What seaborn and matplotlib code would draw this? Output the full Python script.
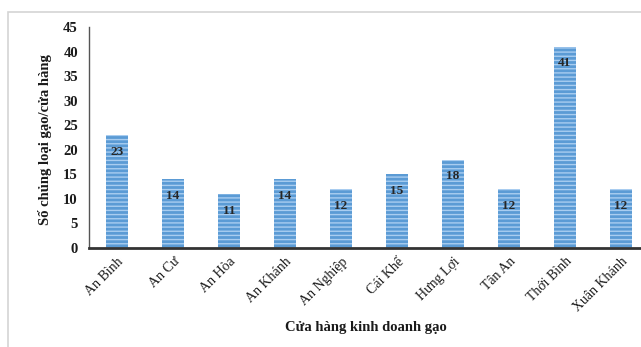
import matplotlib
matplotlib.use("Agg")
import matplotlib.pyplot as plt
import seaborn as sns
import pandas as pd
from matplotlib.patches import Rectangle

stores = ["An Bình", "An Cư", "An Hòa", "An Khánh", "An Nghiệp",
          "Cái Khế", "Hưng Lợi", "Tân An", "Thới Bình", "Xuân Khánh"]
counts = [23, 14, 11, 14, 12, 15, 18, 12, 41, 12]
y_ticks = [0, 5, 10, 15, 20, 25, 30, 35, 40, 45]

sns.set_theme(style="white")
plt.rcParams["font.family"] = ["Liberation Serif", "DejaVu Serif"]
plt.rcParams["hatch.linewidth"] = 1.0

df = pd.DataFrame({"store": stores, "count": counts})

W, H = 641, 347
fig = plt.figure(figsize=(W / 100, H / 100), dpi=100)
fig.patch.set_facecolor("white")

# light frame around the chart area
fig.add_artist(Rectangle((8 / W, -0.1), 1.2, 1.1 - 12 / H,
                         transform=fig.transFigure, fill=False,
                         edgecolor="#d4d4d4", linewidth=1.2))

left, right = 89, 649
bottom, top = 248, 27
ax = fig.add_axes([left / W, 1 - bottom / H, (right - left) / W, (bottom - top) / H])
ax.set_facecolor("none")

sns.barplot(data=df, x="store", y="count", ax=ax, color="#5b9bd5",
            width=0.38, saturation=1, edgecolor="#a9cdf0", linewidth=0,
            hatch="----")

for p, v in zip(ax.patches, counts):
    ax.annotate(str(v), (p.get_x() + p.get_width() / 2, v),
                xytext=(0, -12), textcoords="offset points",
                ha="center", va="center", fontsize=9.5, fontweight="bold",
                color="#262626")

ax.set_xlim(-0.5, 9.5)
ax.set_ylim(0, 45)
ax.set_yticks(y_ticks)
ax.set_yticklabels([str(t) for t in y_ticks], fontsize=10.5, fontweight="bold",
                   color="#1a1a1a")
ax.tick_params(axis="y", length=0, pad=8)
ax.tick_params(axis="x", length=0, pad=5)
ax.set_xticks(range(len(stores)))
ax.set_xticklabels(stores, rotation=45, ha="right", rotation_mode="anchor",
                   fontsize=10, color="#1a1a1a")

for s in ["top", "right"]:
    ax.spines[s].set_visible(False)
ax.spines["left"].set_color("#555555")
ax.spines["left"].set_linewidth(1.0)
ax.spines["bottom"].set_color("#333333")
ax.spines["bottom"].set_linewidth(2.0)

ax.set_xlabel("")
ax.set_ylabel("")
fig.text(45 / W, 1 - 140 / H, "Số chủng loại gạo/cửa hàng", rotation=90,
         ha="center", va="center", fontsize=10.5, fontweight="bold", color="#1a1a1a")
fig.text(366 / W, 1 - 327 / H, "Cửa hàng kinh doanh gạo",
         ha="center", va="center", fontsize=10.5, fontweight="bold", color="#1a1a1a")

fig.savefig("out.png", dpi=100)
